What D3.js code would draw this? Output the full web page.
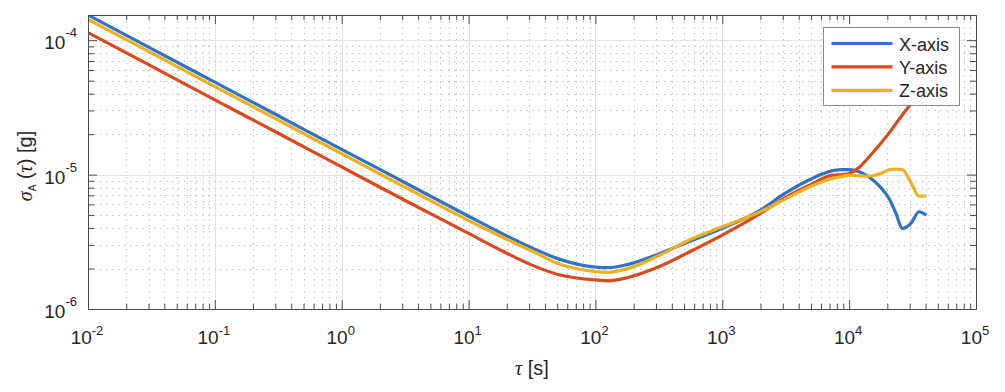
<!DOCTYPE html>
<html>
<head>
<meta charset="utf-8">
<script src="https://cdn.jsdelivr.net/npm/d3@7"></script>
<style>
  body { margin: 0; background: #fff; }
  svg { display: block; font-family: "Liberation Sans", Arial, Helvetica, sans-serif; }
</style>
</head>
<body>
<svg id="chart" width="1005" height="392"></svg>
<script>
// averaging time tau [s]
const tau = [0.01, 0.0316, 0.1, 0.316, 1, 3.16, 10, 17.8, 31.6, 52.5, 100, 126, 178, 316, 589, 1000,
  2000, 3160, 5010, 7410, 8910, 10000, 12000, 14100, 17800, 20900, 23400, 26300, 30900, 35500, 40700];

// Allan deviation [g] per axis
const xAxisDev = [1.54e-4, 8.66e-5, 4.87e-5, 2.74e-5, 1.54e-5, 8.7e-6, 4.9e-6, 3.7e-6, 2.85e-6, 2.34e-6,
  2.05e-6, 2.03e-6, 2.14e-6, 2.57e-6, 3.26e-6, 3.98e-6, 5.45e-6, 7.3e-6, 9.27e-6, 1.07e-5, 1.09e-5,
  1.09e-5, 1.05e-5, 9.7e-6, 8.0e-6, 6.5e-6, 5.14e-6, 3.98e-6, 4.38e-6, 5.29e-6, 5.0e-6];
const yAxisDev = [1.14e-4, 6.41e-5, 3.6e-5, 2.03e-5, 1.14e-5, 6.42e-6, 3.65e-6, 2.75e-6, 2.12e-6, 1.79e-6,
  1.645e-6, 1.62e-6, 1.71e-6, 2.06e-6, 2.75e-6, 3.55e-6, 5.15e-6, 6.78e-6, 8.45e-6, 9.9e-6, 1.0e-5,
  1.02e-5, 1.13e-5, 1.33e-5, 1.71e-5, 2.07e-5, 2.4e-5, 2.79e-5, 3.4e-5, 4.07e-5, 4.9e-5];
const zAxisDev = [1.43e-4, 8.04e-5, 4.52e-5, 2.54e-5, 1.43e-5, 8.05e-6, 4.55e-6, 3.48e-6, 2.7e-6, 2.15e-6,
  1.9e-6, 1.875e-6, 1.99e-6, 2.5e-6, 3.36e-6, 4.09e-6, 5.29e-6, 6.6e-6, 8.2e-6, 9.35e-6, 9.7e-6,
  9.9e-6, 9.8e-6, 9.75e-6, 1.02e-5, 1.09e-5, 1.1e-5, 1.09e-5, 8.6e-6, 6.92e-6, 6.92e-6];

const seriesNames = ["X-axis", "Y-axis", "Z-axis"];
const seriesColors = ["#3272c4", "#da4a1f", "#edb120"];

const xTickExps = [-2, -1, 0, 1, 2, 3, 4, 5];
const yTickExps = [-6, -5, -4];

const series = [xAxisDev, yAxisDev, zAxisDev].map((vals, i) => ({
  name: seriesNames[i],
  color: seriesColors[i],
  points: tau.map((t, j) => ({ t, v: vals[j] }))
}));

const margin = { top: 15, right: 29, bottom: 83, left: 88 };
const W = 1005, H = 392;
const width = W - margin.left - margin.right,
      height = H - margin.top - margin.bottom;

const svg = d3.select("#chart");
const g = svg.append("g").attr("transform", `translate(${margin.left},${margin.top})`);

const yMax = d3.max([xAxisDev, yAxisDev, zAxisDev], a => d3.max(a));

const x = d3.scaleLog().domain([1e-2, 1e5]).range([0, width]);
const y = d3.scaleLog().domain([1e-6, yMax]).range([height, 0]);

// minor tick positions (2..9 x 10^n)
const minorOf = (exps, lo, hi) => {
  const out = [];
  exps.forEach(e => { for (let k = 2; k <= 9; k++) { const v = k * Math.pow(10, e); if (v > lo && v < hi) out.push(v); } });
  return out;
};
const xMajor = xTickExps.map(e => Math.pow(10, e));
const yMajor = yTickExps.map(e => Math.pow(10, e));
const xMinor = minorOf(xTickExps, 1e-2, 1e5);
const yMinor = minorOf([-6, -5, -4], 1e-6, yMax);

// grid
const grid = g.append("g");
grid.selectAll(".xminor").data(xMinor).enter().append("line")
  .attr("x1", d => Math.round(x(d)) + 0.5).attr("x2", d => Math.round(x(d)) + 0.5)
  .attr("y1", 0).attr("y2", height)
  .attr("stroke", "#c4c4c4").attr("stroke-dasharray", "1.5,4.5");
grid.selectAll(".yminor").data(yMinor).enter().append("line")
  .attr("y1", d => Math.round(y(d)) + 0.5).attr("y2", d => Math.round(y(d)) + 0.5)
  .attr("x1", 0).attr("x2", width)
  .attr("stroke", "#c4c4c4").attr("stroke-dasharray", "1.5,4.5");
grid.selectAll(".xmajor").data(xMajor.slice(1, -1)).enter().append("line")
  .attr("x1", d => Math.round(x(d)) + 0.5).attr("x2", d => Math.round(x(d)) + 0.5)
  .attr("y1", 0).attr("y2", height)
  .attr("stroke", "#e2e2e2");
grid.selectAll(".ymajor").data(yMajor.slice(1)).enter().append("line")
  .attr("y1", d => Math.round(y(d)) + 0.5).attr("y2", d => Math.round(y(d)) + 0.5)
  .attr("x1", 0).attr("x2", width)
  .attr("stroke", "#e2e2e2");

// lines
g.append("clipPath").attr("id", "clip").append("rect")
  .attr("width", width).attr("height", height);

const line = d3.line()
  .x(d => x(d.t))
  .y(d => y(d.v))
  .curve(d3.curveMonotoneX);

g.append("g").attr("clip-path", "url(#clip)")
  .selectAll("path")
  .data(series)
  .enter()
  .append("path")
  .attr("d", d => line(d.points))
  .attr("fill", "none")
  .attr("stroke", d => d.color)
  .attr("stroke-width", 3.2)
  .attr("stroke-linejoin", "round");

// axes (ticks inward on all four sides)
const axisColor = "#4a4a4a";
const styleAxis = sel => {
  sel.select(".domain").remove();
  sel.selectAll(".tick line").attr("stroke", axisColor);
  sel.selectAll(".tick text").remove();
};
g.append("g").attr("transform", `translate(0,${height})`)
  .call(d3.axisBottom(x).tickValues(xMinor).tickSize(-5).tickFormat(""))
  .call(styleAxis);
g.append("g").attr("transform", `translate(0,${height})`)
  .call(d3.axisBottom(x).tickValues(xMajor).tickSize(-9).tickFormat(""))
  .call(styleAxis);
g.append("g")
  .call(d3.axisTop(x).tickValues(xMinor).tickSize(-5).tickFormat(""))
  .call(styleAxis);
g.append("g")
  .call(d3.axisTop(x).tickValues(xMajor).tickSize(-9).tickFormat(""))
  .call(styleAxis);
g.append("g")
  .call(d3.axisLeft(y).tickValues(yMinor).tickSize(-6).tickFormat(""))
  .call(styleAxis);
g.append("g")
  .call(d3.axisLeft(y).tickValues(yMajor).tickSize(-9).tickFormat(""))
  .call(styleAxis);
g.append("g").attr("transform", `translate(${width},0)`)
  .call(d3.axisRight(y).tickValues(yMinor).tickSize(-6).tickFormat(""))
  .call(styleAxis);
g.append("g").attr("transform", `translate(${width},0)`)
  .call(d3.axisRight(y).tickValues(yMajor).tickSize(-9).tickFormat(""))
  .call(styleAxis);

g.append("rect")
  .attr("x", 0.5).attr("y", 0.5)
  .attr("width", width).attr("height", height)
  .attr("fill", "none").attr("stroke", axisColor);

// tick labels 10^n
const textColor = "#262626";
g.append("g").selectAll("text")
  .data(xTickExps)
  .enter()
  .append("text")
  .attr("x", d => x(Math.pow(10, d)) - 1)
  .attr("y", height + 35)
  .attr("text-anchor", "middle")
  .attr("fill", textColor)
  .style("font-size", "19px")
  .each(function (d) {
    const t = d3.select(this);
    t.append("tspan").text("10");
    t.append("tspan").attr("dy", -9).style("font-size", "13px").text(d);
  });

g.append("g").selectAll("text")
  .data(yTickExps)
  .enter()
  .append("text")
  .attr("x", -11)
  .attr("y", d => y(Math.pow(10, d)) + 9)
  .attr("text-anchor", "end")
  .attr("fill", textColor)
  .style("font-size", "19px")
  .each(function (d) {
    const t = d3.select(this);
    t.append("tspan").text("10");
    t.append("tspan").attr("dy", -12).style("font-size", "13px").text(d);
  });

// axis labels
const xl = g.append("text")
  .attr("x", width / 2)
  .attr("y", height + 66)
  .attr("text-anchor", "middle")
  .attr("fill", textColor)
  .style("font-size", "20px");
xl.append("tspan").style("font-family", "'Liberation Serif', serif").style("font-style", "italic").text("τ");
xl.append("tspan").text(" [s]");

const yl = svg.append("text")
  .attr("transform", "translate(32,166) rotate(-90)")
  .attr("text-anchor", "middle")
  .attr("fill", textColor)
  .style("font-size", "20px");
yl.append("tspan").style("font-family", "'Liberation Serif', serif").style("font-style", "italic").text("σ");
yl.append("tspan").attr("dy", 4).style("font-size", "10px").text("A");
yl.append("tspan").attr("dy", -4).text(" (");
yl.append("tspan").style("font-family", "'Liberation Serif', serif").style("font-style", "italic").text("τ");
yl.append("tspan").text(") [g]");

// legend
const legend = svg.append("g").attr("transform", "translate(823.5,27.5)");
legend.append("rect")
  .attr("width", 136).attr("height", 78)
  .attr("fill", "#fff").attr("stroke", "#8a8a8a");
series.forEach((s, i) => {
  legend.append("line")
    .attr("x1", 8).attr("x2", 69)
    .attr("y1", 16 + i * 23.4).attr("y2", 16 + i * 23.4)
    .attr("stroke", s.color).attr("stroke-width", 3.2);
  legend.append("text")
    .attr("x", 75.5)
    .attr("y", 16 + i * 23.4 + 7)
    .attr("fill", textColor)
    .style("font-size", "18px")
    .text(s.name);
});
</script>
</body>
</html>
